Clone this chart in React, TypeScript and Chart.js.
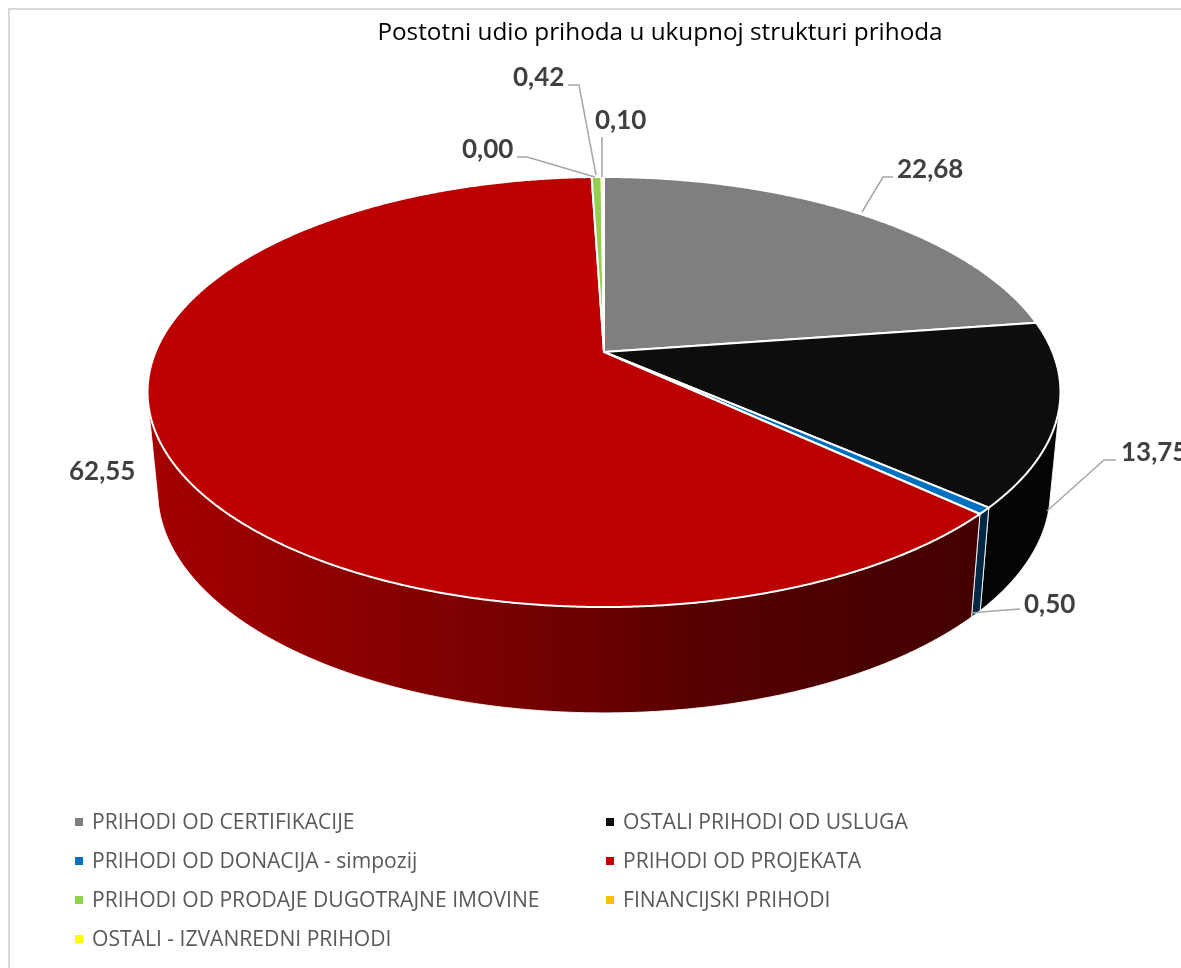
import React, { useEffect, useRef } from "react";
import { Chart, registerables } from "chart.js";

Chart.register(...registerables);

const categories = [
  "PRIHODI OD CERTIFIKACIJE",
  "OSTALI PRIHODI OD USLUGA",
  "PRIHODI OD DONACIJA - simpozij",
  "PRIHODI OD PROJEKATA",
  "PRIHODI OD PRODAJE DUGOTRAJNE IMOVINE",
  "FINANCIJSKI PRIHODI",
  "OSTALI - IZVANREDNI PRIHODI",
];
const shares = [22.68, 13.75, 0.5, 62.55, 0.42, 0.0, 0.1];
const sliceColors = ["#7f7f7f", "#0d0d0d", "#0070c0", "#bc0000", "#92d050", "#ffc000", "#ffff00"];
const chartTitle = "Postotni udio prihoda u ukupnoj strukturi prihoda";

// Label placement, per slice: text left and middle, then the leader polyline (if any).
const labelLayout: { x: number; y: number; leader: number[][] }[] = [
  { x: 897, y: 170, leader: [[862, 212], [883, 177], [893, 177]] },
  { x: 1121, y: 453, leader: [[1047, 511], [1104, 460], [1116, 460]] },
  { x: 1024, y: 605, leader: [[972, 613], [993, 611], [1020, 609]] },
  { x: 69, y: 472, leader: [] },
  { x: 513, y: 78, leader: [[596, 175], [579, 85], [568, 85]] },
  { x: 462, y: 150, leader: [[595, 177], [527, 157], [517, 157]] },
  { x: 595, y: 121, leader: [[602, 177], [602, 137]] },
];
const legendLayout = [
  [75, 823], [606, 823], [75, 862], [606, 862], [75, 901], [606, 901], [75, 940],
];

const LABEL_FONT = "bold 26px Lato";
const LEGEND_FONT = "21.1px 'Open Sans'";
const FONT_FAMILY = "'Open Sans'";

// Perspective projection of the pie's unit circle, on the top and on the bottom face.
const K = 0.186;
const TOP = { cx: 604, cy: 352, a: 448.5, b: 207.6 };
const BOTTOM = { cx: 604, cy: 450, a: 438.5, b: 214 };
const project = (face: typeof TOP, angle: number) => {
  const x = Math.cos(angle);
  const y = Math.sin(angle);
  const d = 1 - K * y;
  return [face.cx + (face.a * x) / d, face.cy + (face.b * y) / d];
};
// Part of the rim that faces the viewer, in canvas angles.
const RIM_START = (14 * Math.PI) / 180;
const RIM_END = (166 * Math.PI) / 180;

const shade = (hex: string, f: number) => {
  const n = parseInt(hex.slice(1), 16);
  const c = [(n >> 16) & 255, (n >> 8) & 255, n & 255].map((v) => Math.round(v * f));
  return `rgb(${c[0]},${c[1]},${c[2]})`;
};

const sample = (from: number, to: number) => {
  const steps = Math.max(2, Math.ceil(Math.abs(to - from) / 0.006));
  const out: number[] = [];
  for (let i = 0; i <= steps; i++) out.push(from + ((to - from) * i) / steps);
  return out;
};

const pie3d = {
  id: "pie3d",
  beforeDraw(chart: any) {
    const { ctx, width, height } = chart;
    ctx.save();
    ctx.fillStyle = "#ffffff";
    ctx.fillRect(0, 0, width, height);
    ctx.fillStyle = "#d9d9d9";
    ctx.fillRect(8, 8, width - 8, 2);
    ctx.fillRect(8, 8, 2, height - 8);
    ctx.restore();
  },
  beforeDatasetsDraw(chart: any) {
    const { ctx } = chart;
    const arcs = chart.getDatasetMeta(0).data;
    ctx.save();
    ctx.lineJoin = "round";

    // rim
    arcs.forEach((arc: any) => {
      const base = arc.options.backgroundColor;
      let a0 = arc.startAngle;
      while (a0 < -Math.PI / 2) a0 += 2 * Math.PI;
      const s = Math.max(a0, RIM_START);
      const e = Math.min(a0 + (arc.endAngle - arc.startAngle), RIM_END);
      if (e <= s) return;
      const grad = ctx.createLinearGradient(150, 0, 1060, 0);
      grad.addColorStop(0, shade(base, 0.88));
      grad.addColorStop(0.275, shade(base, 0.71));
      grad.addColorStop(0.5, shade(base, 0.56));
      grad.addColorStop(0.6, shade(base, 0.46));
      grad.addColorStop(0.9, shade(base, 0.36));
      grad.addColorStop(1, shade(base, 0.32));
      ctx.beginPath();
      sample(s, e).forEach((t, n) => {
        const p = project(TOP, t);
        if (n === 0) ctx.moveTo(p[0], p[1]);
        else ctx.lineTo(p[0], p[1]);
      });
      sample(e, s).forEach((t) => {
        const p = project(BOTTOM, t);
        ctx.lineTo(p[0], p[1]);
      });
      ctx.closePath();
      ctx.fillStyle = grad;
      ctx.fill();
      ctx.strokeStyle = "#ffffff";
      ctx.lineWidth = 0.9;
      ctx.stroke();
    });

    // top face
    arcs.forEach((arc: any) => {
      if (arc.endAngle - arc.startAngle <= 0) return;
      ctx.beginPath();
      ctx.moveTo(TOP.cx, TOP.cy);
      sample(arc.startAngle, arc.endAngle).forEach((t) => {
        const p = project(TOP, t);
        ctx.lineTo(p[0], p[1]);
      });
      ctx.closePath();
      ctx.fillStyle = arc.options.backgroundColor;
      ctx.fill();
      ctx.strokeStyle = "#ffffff";
      ctx.lineWidth = 2;
      ctx.stroke();
    });

    ctx.restore();
    return false;
  },
  afterDraw(chart: any) {
    const { ctx } = chart;
    ctx.save();
    // leaders and value labels
    ctx.textBaseline = "middle";
    ctx.textAlign = "left";
    shares.forEach((v, i) => {
      const l = labelLayout[i];
      if (l.leader.length) {
        ctx.beginPath();
        l.leader.forEach((p, n) => (n ? ctx.lineTo(p[0], p[1]) : ctx.moveTo(p[0], p[1])));
        ctx.strokeStyle = "#a6a6a6";
        ctx.lineWidth = 1.5;
        ctx.stroke();
      }
      ctx.font = LABEL_FONT;
      ctx.fillStyle = "#404040";
      ctx.fillText(v.toFixed(2).replace(".", ","), l.x, l.y);
    });
    // legend
    ctx.font = LEGEND_FONT;
    categories.forEach((name, i) => {
      const [x, y] = legendLayout[i];
      ctx.fillStyle = sliceColors[i];
      ctx.fillRect(x, y - 5, 8, 8);
      ctx.fillStyle = "#595959";
      ctx.fillText(name, x + 17, y);
    });
    ctx.restore();
  },
};

export default function App() {
  const ref = useRef<HTMLCanvasElement>(null);
  useEffect(() => {
    const chart = new Chart(ref.current!, {
      type: "pie",
      data: {
        labels: categories,
        datasets: [{ data: shares, backgroundColor: sliceColors, borderColor: "#ffffff" }],
      },
      options: {
        responsive: false,
        animation: false,
        rotation: 0,
        layout: { padding: { left: 139 } },
        plugins: {
          legend: { display: false },
          tooltip: { enabled: false },
          title: {
            display: true,
            text: chartTitle,
            color: "#000000",
            font: { family: FONT_FAMILY, size: 24.3, weight: "normal" },
            padding: { top: 18, bottom: 10 },
          },
        },
      },
      plugins: [pie3d],
    } as any);
    return () => chart.destroy();
  }, []);
  return (
    <div style={{ position: "absolute", left: 0, top: 0, width: 1181, height: 968, overflow: "hidden" }}>
      <canvas ref={ref} width={1181} height={968} style={{ display: "block" }} />
    </div>
  );
}
